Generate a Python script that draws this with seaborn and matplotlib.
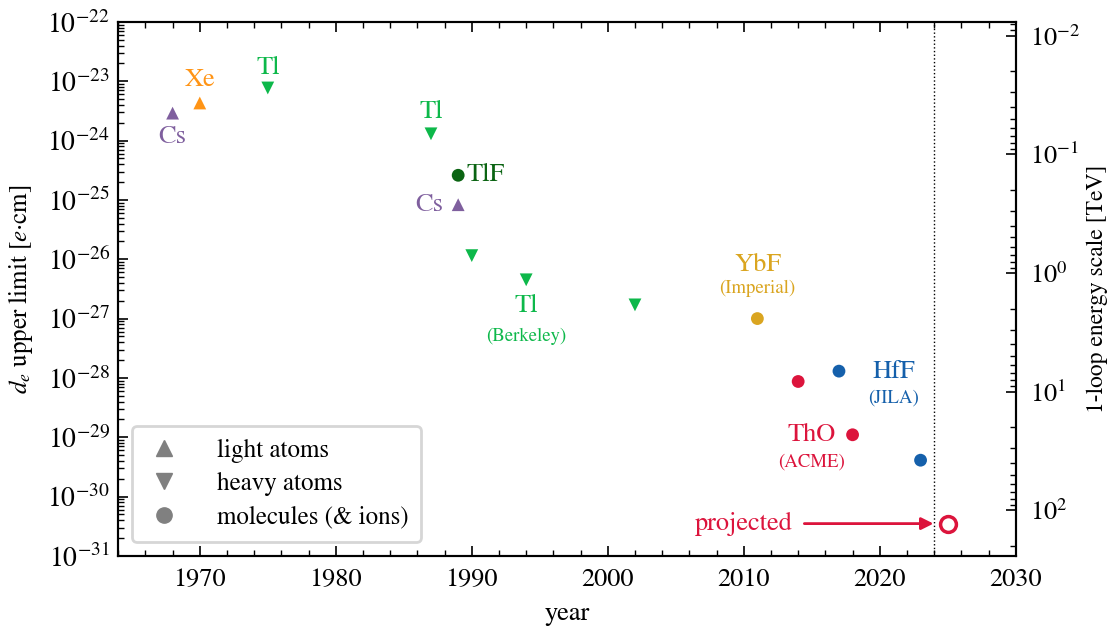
import numpy as np
import pandas as pd
import matplotlib
matplotlib.use("Agg")
import matplotlib.pyplot as plt
from matplotlib.lines import Line2D
from matplotlib.ticker import LogLocator, NullFormatter, MultipleLocator, FixedLocator, LogFormatterSciNotation
import seaborn as sns

# ---------------- data ----------------
years = [1968, 1970, 1975, 1987, 1989, 1989, 1990, 1994, 2002, 2011, 2014, 2017, 2018, 2023]
limits = [2.9e-24, 4.3e-24, 7.7e-24, 1.3e-24, 2.6e-25, 8.3e-26, 1.15e-26, 4.5e-27,
          1.7e-27, 1.0e-27, 8.7e-29, 1.3e-28, 1.1e-29, 4.1e-30]
species = ["Cs", "Xe", "Tl", "Tl", "TlF", "Cs", "Tl", "Tl", "Tl", "YbF", "ThO", "HfF", "ThO", "HfF"]
kinds = ["light atoms", "light atoms", "heavy atoms", "heavy atoms", "molecules (& ions)",
         "light atoms", "heavy atoms", "heavy atoms", "heavy atoms", "molecules (& ions)",
         "molecules (& ions)", "molecules (& ions)", "molecules (& ions)", "molecules (& ions)"]
projected_year = 2025
projected_limit = 3.5e-31
current_year = 2024

colors = {"Cs": "#7f5f9e", "Xe": "#ff9415", "Tl": "#0db84a", "TlF": "#0b6413",
          "YbF": "#daa520", "ThO": "#dc143c", "HfF": "#1560ab"}
markers = {"light atoms": "^", "heavy atoms": "v", "molecules (& ions)": "o"}

# labels: text, year, value, ha, size
labels = [("Cs", 1968, 1.15e-24, "center", 19), ("Xe", 1970, 1.05e-23, "center", 19),
          ("Tl", 1975, 1.67e-23, "center", 19), ("Tl", 1987, 3.0e-24, "center", 19),
          ("TlF", 1989.6, 2.6e-25, "left", 19), ("Cs", 1987.9, 8.3e-26, "right", 19),
          ("Tl", 1994, 1.6e-27, "center", 19), ("(Berkeley)", 1994, 5.1e-28, "center", 13.5),
          ("YbF", 2011, 8.0e-27, "center", 19), ("(Imperial)", 2011, 3.2e-27, "center", 13.5),
          ("HfF", 2021, 1.26e-28, "center", 19), ("(JILA)", 2021, 4.6e-29, "center", 13.5),
          ("ThO", 2015, 1.1e-29, "center", 19), ("(ACME)", 2015, 3.8e-30, "center", 13.5)]
label_species = ["Cs", "Xe", "Tl", "Tl", "TlF", "Cs", "Tl", "Tl", "YbF", "YbF", "HfF", "HfF", "ThO", "ThO"]

y_decades = list(range(-31, -21))      # left-axis major ticks 1e-31 .. 1e-22
tev_decades = list(range(-2, 3))       # right-axis major ticks 1e-2 .. 1e2

df = pd.DataFrame({"year": years, "limit": limits, "species": species, "kind": kinds})

# ---------------- style ----------------
sns.set_style("ticks")
plt.rcParams["font.family"] = ["STIXGeneral", "DejaVu Serif"]
plt.rcParams["mathtext.fontset"] = "stix"
plt.rcParams["font.size"] = 19
for key in ["text.color", "axes.labelcolor", "xtick.color", "ytick.color", "axes.edgecolor"]:
    plt.rcParams[key] = "black"

fig = plt.figure(figsize=(11.15, 6.26), dpi=100)
ax = fig.add_axes([0.106, 0.112, 0.805, 0.853])

sns.scatterplot(data=df, x="year", y="limit", hue="species", palette=colors,
                style="kind", markers=markers, s=85, linewidth=0, legend=False, ax=ax)

ax.scatter([projected_year], [projected_limit], s=130, facecolor="white",
           edgecolor=colors["ThO"], linewidth=2.5, zorder=5)
ax.axvline(current_year, color="black", linestyle=":", linewidth=1.0)

ax.annotate("projected", xy=(current_year - 0.05, projected_limit), xytext=(2013.6, projected_limit),
            ha="right", va="center", color=colors["ThO"], fontsize=19,
            arrowprops=dict(arrowstyle="-|>", color=colors["ThO"], lw=2, shrinkA=6, shrinkB=0,
                            mutation_scale=18))

for (txt, x, y, ha, size), sp in zip(labels, label_species):
    ax.text(x, y, txt, ha=ha, va="center", color=colors[sp], fontsize=size)

ax.set_yscale("log")
ax.set_xlim(1964, 2030)
ax.set_ylim(1e-31, 1e-22)
ax.yaxis.set_major_locator(FixedLocator([10.0 ** k for k in y_decades]))
ax.yaxis.set_major_formatter(LogFormatterSciNotation())
ax.yaxis.set_minor_locator(FixedLocator([m * 10.0 ** k for k in y_decades[:-1] for m in range(2, 10)]))
ax.yaxis.set_minor_formatter(NullFormatter())
ax.xaxis.set_major_locator(MultipleLocator(10))
ax.xaxis.set_minor_locator(MultipleLocator(2))

ax.tick_params(which="both", direction="in", top=True, right=False, labelsize=19, color="black")
ax.tick_params(axis="y", labelsize=20)
ax.tick_params(which="major", length=7, width=1.2)
ax.tick_params(which="minor", length=4, width=1.0)
ax.tick_params(axis="x", which="both", pad=9)
ax.tick_params(axis="y", which="both", pad=6)
for sp in ax.spines.values():
    sp.set_linewidth(1.5)
    sp.set_color("black")
    sp.set_visible(True)

ax.set_xlabel("year", fontsize=19, labelpad=7)
ax.set_ylabel(r"$d_e$ upper limit [$e{\cdot}$cm]", fontsize=18, labelpad=9)

# secondary axis: 1-loop energy scale (TeV), Lambda = sqrt(C / d_e)
C = 5.85e-27  # d_e at 1 TeV
sec = ax.twinx()
sec.set_yscale("log")
y0, y1 = ax.get_ylim()
sec.set_ylim(np.sqrt(C / y0), np.sqrt(C / y1))
sec.yaxis.set_major_locator(FixedLocator([10.0 ** k for k in tev_decades]))
sec.yaxis.set_major_formatter(LogFormatterSciNotation())
sec.yaxis.set_minor_locator(LogLocator(base=10, subs=np.arange(2, 10), numticks=20))
sec.yaxis.set_minor_formatter(NullFormatter())
sec.tick_params(which="both", direction="in", labelsize=19, left=False, color="black", pad=10)
sec.tick_params(which="major", length=7, width=1.2)
sec.tick_params(which="minor", length=4, width=1.0)
for sp in sec.spines.values():
    sp.set_linewidth(1.5)
    sp.set_color("black")
sec.set_ylabel("1-loop energy scale [TeV]", fontsize=17, labelpad=5)

handles = [Line2D([], [], linestyle="none", marker=markers[k], color="gray",
                  markersize=11, label=k) for k in markers]
leg = ax.legend(handles=handles, loc="lower left", bbox_to_anchor=(0.0, 0.0),
                borderaxespad=0.55, frameon=True, fancybox=True, fontsize=18,
                handletextpad=1.3, borderpad=0.5, labelspacing=0.38, handlelength=1.6)
leg.get_frame().set_edgecolor("#cccccc")
leg.get_frame().set_linewidth(2)

fig.savefig("out.png", dpi=100)
